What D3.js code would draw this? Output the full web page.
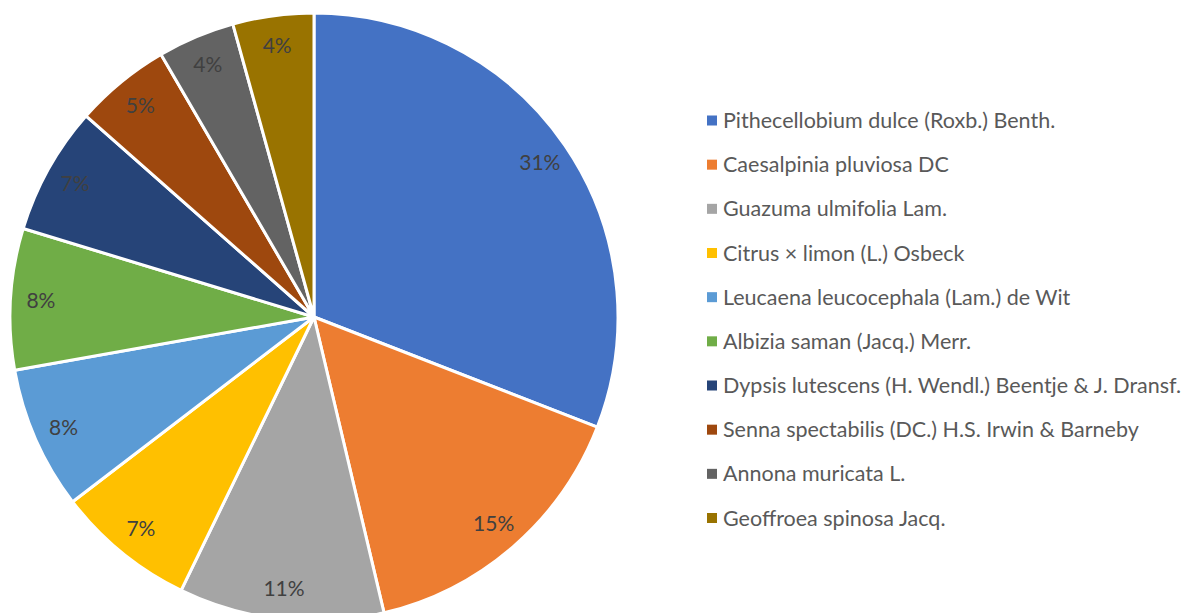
<!DOCTYPE html>
<html>
<head>
<meta charset="utf-8">
<script src="https://cdn.jsdelivr.net/npm/d3@7"></script>
<style>
  body { margin: 0; background: #fff; }
  svg { display: block; }
</style>
</head>
<body>
<div id="chart"></div>
<script>
// especies (en el orden del pastel, sentido horario desde arriba)
const species = [
  "Pithecellobium dulce (Roxb.) Benth.",
  "Caesalpinia pluviosa DC",
  "Guazuma ulmifolia Lam.",
  "Citrus × limon (L.) Osbeck",
  "Leucaena leucocephala (Lam.) de Wit",
  "Albizia saman (Jacq.) Merr.",
  "Dypsis lutescens (H. Wendl.) Beentje & J. Dransf.",
  "Senna spectabilis (DC.) H.S. Irwin & Barneby",
  "Annona muricata L.",
  "Geoffroea spinosa Jacq."
];
// porcentaje
const shares = [30.9, 15.4, 10.9, 7.4, 7.6, 7.5, 6.8, 5.1, 4.1, 4.3];
const colors = ["#4472C4", "#ED7D31", "#A5A5A5", "#FFC000", "#5B9BD5",
                "#70AD47", "#264478", "#9E480E", "#636363", "#997300"];

const width = 1198, height = 613;
const cx = 314, cy = 317, radius = 304;

const svg = d3.select("#chart").append("svg")
  .attr("width", width).attr("height", height);

const total = d3.sum(shares);
const pct = d3.format(".0%");

// pastel
const pie = d3.pie().sort(null).value(d => d);
const arcs = pie(shares);
const arc = d3.arc().innerRadius(0).outerRadius(radius);
const labelArc = d3.arc().innerRadius(radius * 0.9).outerRadius(radius * 0.9);

const g = svg.append("g").attr("transform", `translate(${cx},${cy})`);

g.selectAll("path")
  .data(arcs)
  .enter().append("path")
  .attr("d", arc)
  .attr("fill", (d, i) => colors[i])
  .attr("stroke", "#fff")
  .attr("stroke-width", 3)
  .attr("stroke-linejoin", "round");

// etiquetas de porcentaje
g.selectAll("text")
  .data(arcs)
  .enter().append("text")
  .attr("transform", d => `translate(${labelArc.centroid(d)})`)
  .attr("text-anchor", "middle")
  .attr("dy", "0.35em")
  .attr("font-family", "Lato, sans-serif")
  .attr("font-size", 21)
  .attr("fill", "#404040")
  .text(d => pct(d.value / total));

// leyenda
const legendY = d3.scalePoint().domain(species).range([120.5, 518]);

const legend = svg.append("g").selectAll("g")
  .data(species)
  .enter().append("g")
  .attr("transform", d => `translate(707,${legendY(d)})`);

legend.append("rect")
  .attr("x", 0).attr("y", -5)
  .attr("width", 10).attr("height", 10)
  .attr("fill", (d, i) => colors[i]);

legend.append("text")
  .attr("x", 16)
  .attr("dy", "0.35em")
  .attr("font-family", "Lato, sans-serif")
  .attr("font-size", 21.5)
  .attr("fill", "#595959")
  .text(d => d);
</script>
</body>
</html>
